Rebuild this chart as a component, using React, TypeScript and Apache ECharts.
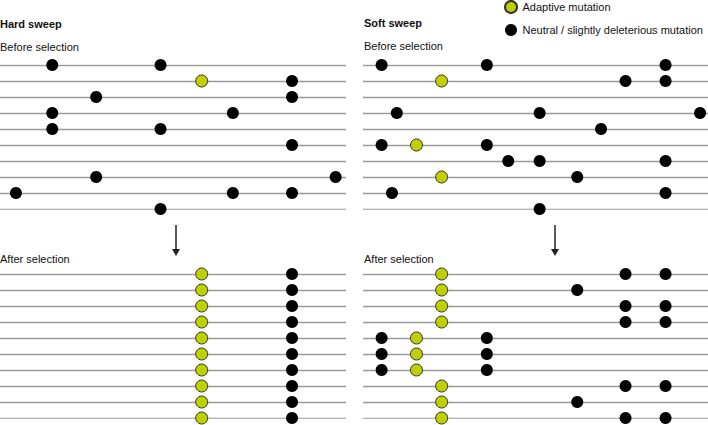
import React, { useEffect, useRef } from "react";
import * as echarts from "echarts";

// Positions along each haplotype (0-100 of the segment length), row = haplotype index (1..10)
const hardBeforeNeutral: [number, number][] = [
  [15.1, 1], [46.4, 1],
  [84.4, 2],
  [27.8, 3], [84.4, 3],
  [15.1, 4], [67.3, 4],
  [15.1, 5], [46.4, 5],
  [84.4, 6],
  [27.8, 8], [97.0, 8],
  [4.6, 9], [67.3, 9], [84.4, 9],
  [46.4, 10],
];
const hardBeforeAdaptive: [number, number][] = [[58.3, 2]];

const hardAfterNeutral: [number, number][] = [
  [84.4, 1], [84.4, 2], [84.4, 3], [84.4, 4], [84.4, 5],
  [84.4, 6], [84.4, 7], [84.4, 8], [84.4, 9], [84.4, 10],
];
const hardAfterAdaptive: [number, number][] = [
  [58.3, 1], [58.3, 2], [58.3, 3], [58.3, 4], [58.3, 5],
  [58.3, 6], [58.3, 7], [58.3, 8], [58.3, 9], [58.3, 10],
];

const softBeforeNeutral: [number, number][] = [
  [5.4, 1], [35.9, 1], [87.7, 1],
  [76.1, 2], [87.7, 2],
  [9.8, 4], [51.2, 4], [97.7, 4],
  [69.0, 5],
  [5.4, 6], [35.9, 6],
  [42.1, 7], [51.2, 7], [87.7, 7],
  [62.1, 8],
  [8.4, 9], [87.7, 9],
  [51.2, 10],
];
const softBeforeAdaptive: [number, number][] = [[22.8, 2], [15.5, 6], [22.8, 8]];

const softAfterNeutral: [number, number][] = [
  [76.1, 1], [87.7, 1],
  [62.1, 2],
  [76.1, 3], [87.7, 3],
  [76.1, 4], [87.7, 4],
  [5.4, 5], [35.9, 5],
  [5.4, 6], [35.9, 6],
  [5.4, 7], [35.9, 7],
  [76.1, 8], [87.7, 8],
  [62.1, 9],
  [76.1, 10], [87.7, 10],
];
const softAfterAdaptive: [number, number][] = [
  [22.8, 1], [22.8, 2], [22.8, 3], [22.8, 4],
  [15.5, 5], [15.5, 6], [15.5, 7],
  [22.8, 8], [22.8, 9], [22.8, 10],
];

const rows = [1, 2, 3, 4, 5, 6, 7, 8, 9, 10];

const ADAPTIVE = "Adaptive mutation";
const NEUTRAL = "Neutral / slightly deleterious mutation";

const GREEN = "#bfd000";
const FONT = "Liberation Sans, Arial, sans-serif";

export default function App() {
  const ref = useRef<HTMLDivElement>(null);
  useEffect(() => {
    document.body.style.margin = "0";
    const chart = echarts.init(ref.current!, null, { renderer: "svg" });

    const grids = [
      { left: 0, top: 65, width: 346, height: 144 },
      { left: 363, top: 65, width: 345, height: 144 },
      { left: 0, top: 274, width: 346, height: 144 },
      { left: 363, top: 274, width: 345, height: 144 },
    ];
    const panels = [
      { n: hardBeforeNeutral, a: hardBeforeAdaptive },
      { n: softBeforeNeutral, a: softBeforeAdaptive },
      { n: hardAfterNeutral, a: hardAfterAdaptive },
      { n: softAfterNeutral, a: softAfterAdaptive },
    ];

    const series: any[] = [];
    panels.forEach((p, i) => {
      series.push({
        type: "lines",
        coordinateSystem: "cartesian2d",
        xAxisIndex: i,
        yAxisIndex: i,
        silent: true,
        lineStyle: { color: "#9a9a9a", width: 1.3, opacity: 1 },
        data: rows.map((r) => ({ coords: [[0, r], [100, r]] })),
        z: 1,
      });
      series.push({
        type: "scatter",
        name: NEUTRAL,
        xAxisIndex: i,
        yAxisIndex: i,
        symbol: "circle",
        symbolSize: 12,
        itemStyle: { color: "#000", opacity: 1 },
        data: p.n,
        z: 3,
      });
      series.push({
        type: "scatter",
        name: ADAPTIVE,
        xAxisIndex: i,
        yAxisIndex: i,
        symbol: "circle",
        symbolSize: 12,
        itemStyle: { color: GREEN, borderColor: "#333", borderWidth: 1, opacity: 1 },
        data: p.a,
        z: 3,
      });
    });

    const arrow = (x: number) => [
      {
        type: "line",
        shape: { x1: x, y1: 225, x2: x, y2: 250 },
        style: { stroke: "#222", lineWidth: 1.5 },
      },
      {
        type: "polygon",
        shape: { points: [[x - 4, 249], [x + 4, 249], [x, 256]] },
        style: { fill: "#222" },
      },
    ];
    const txt = (x: number, y: number, t: string, bold = false) => ({
      type: "text",
      x,
      y,
      style: {
        text: t,
        fill: "#111",
        font: `${bold ? "bold " : ""}11px ${FONT}`,
        textVerticalAlign: "middle",
      },
    });

    chart.setOption({
      animation: false,
      grid: grids,
      xAxis: grids.map((_, i) => ({
        type: "value",
        gridIndex: i,
        min: 0,
        max: 100,
        show: false,
      })),
      yAxis: grids.map((_, i) => ({
        type: "value",
        gridIndex: i,
        min: 1,
        max: 10,
        inverse: true,
        show: false,
      })),
      legend: {
        orient: "vertical",
        left: 504,
        top: 0,
        padding: 0,
        itemWidth: 13,
        itemHeight: 12,
        itemGap: 10,
        data: [ADAPTIVE, NEUTRAL],
        textStyle: { fontSize: 11, fontFamily: FONT, color: "#111" },
      },
      graphic: [
        txt(0, 24, "Hard sweep", true),
        txt(0, 47, "Before selection"),
        txt(364, 23, "Soft sweep", true),
        txt(364, 46, "Before selection"),
        txt(0, 259, "After selection"),
        txt(364, 259, "After selection"),
        ...arrow(176),
        ...arrow(555),
      ],
      series,
    });
    return () => chart.dispose();
  }, []);
  return <div ref={ref} style={{ width: 708, height: 425 }} />;
}
